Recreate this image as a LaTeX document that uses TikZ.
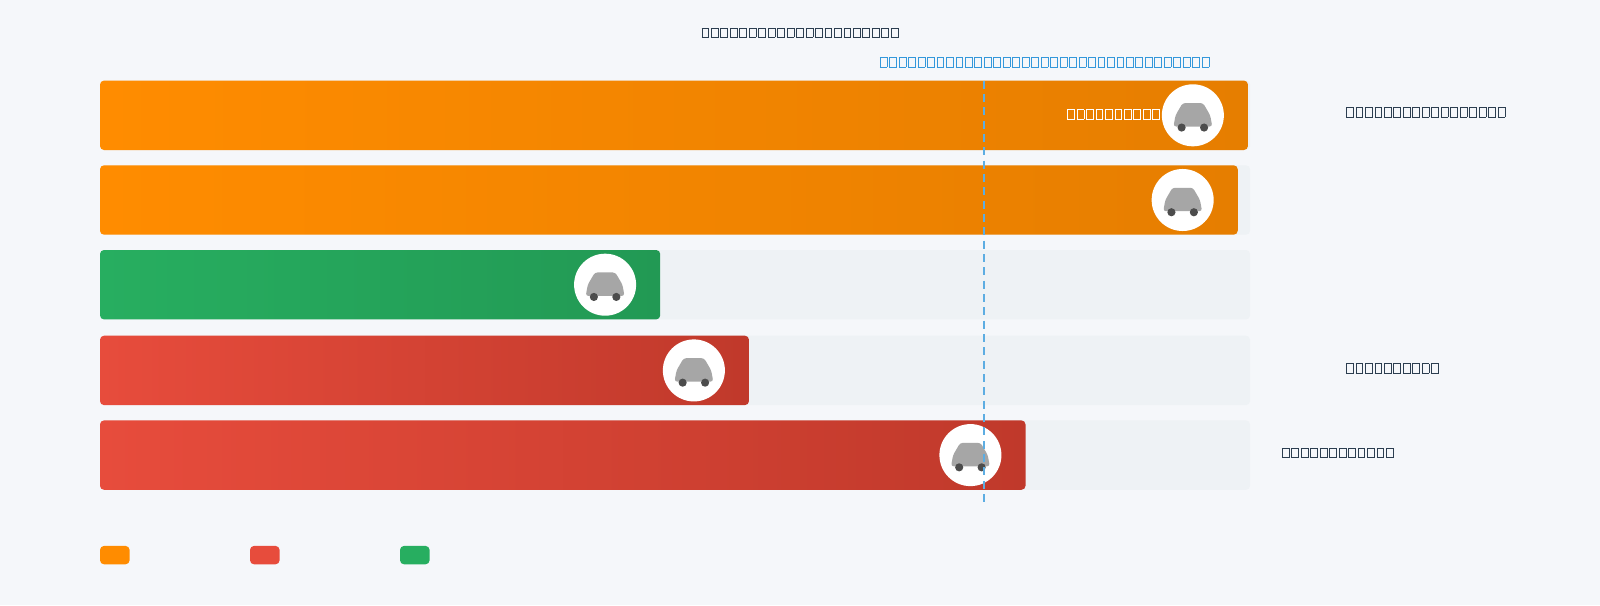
\documentclass[tikz,border=0pt]{standalone}
\usepackage{tikz}
\usetikzlibrary{positioning}
\definecolor{bgpage}{HTML}{F5F7FA}
\definecolor{track}{HTML}{EEF2F5}
\definecolor{orgA}{HTML}{FF8C00}
\definecolor{orgB}{HTML}{E67E00}
\definecolor{grnA}{HTML}{27AE60}
\definecolor{grnB}{HTML}{229954}
\definecolor{redA}{HTML}{E74C3C}
\definecolor{redB}{HTML}{C0392B}
\definecolor{inkdark}{HTML}{2C3E50}
\definecolor{inkblue}{HTML}{3498DB}
\definecolor{refline}{HTML}{5DADE2}
% one missing glyph, as the picture shows it
\newcommand{\tofubox}{\makebox[7.1pt][c]{\fboxsep0pt\fboxrule0.55pt\fbox{\phantom{\rule{4.6pt}{6.6pt}}}}}
\newcommand{\tofurow}[1]{\foreach \k in {1,...,#1}{\tofubox}}
\tikzset{
  bar/.style={rounded corners=3pt},
  puck/.style={circle, fill=white, minimum size=46.5pt, inner sep=0pt},
  lbl/.style={inner sep=0pt}
}
\begin{document}
\begin{tikzpicture}[x=0.765pt,y=-0.765pt]
\useasboundingbox (0,0) rectangle (1568,593);
\fill[bgpage] (0,0) rectangle (1568,593);

% tracks and bars
\foreach \top/\stop/\ca/\cb/\cx [count=\r] in {79/1223/orgA/orgB/1169, 162/1213/orgA/orgB/1159, 245/647/grnA/grnB/593, 329/734/redA/redB/680, 412/1005/redA/redB/951} {
  \fill[track, bar] (98,\top) rectangle (1225,\top+68);
  \shade[bar, left color=\ca, right color=\cb] (98,\top) rectangle (\stop,\top+68);
  \node[puck] (car\r) at (\cx,\top+34) {};
  \fill[gray!70, rounded corners=2pt] (\cx-17,\top+34) -- (\cx-10,\top+22) -- (\cx+10,\top+22) -- (\cx+17,\top+34) -- (\cx+19,\top+45) -- (\cx-19,\top+45) -- cycle;
  \fill[black!70] (\cx-11,\top+46) circle (4) (\cx+11,\top+46) circle (4);
}

% reference line
\coordinate (refTop) at (964,79);
\coordinate (refBot) at (964,494);
\draw[refline, line width=1.6pt, dash pattern=on 6pt off 4pt] (refTop) -- (refBot);

% texts
\node[lbl, text=inkdark] (title) at (784,32) {\tofurow{21}};
\node[lbl, text=inkblue, anchor=west] (note) at (861,61) {\tofurow{35}};
\node[lbl, text=white, anchor=east] (barlbl) at (1138,112) {\tofurow{10}};
\node[lbl, text=inkdark, anchor=west] (side1) at (1318,110) {\tofurow{17}};
\node[lbl, text=inkdark, anchor=west] (side4) at (1318,361) {\tofurow{10}};
\node[lbl, text=inkdark, anchor=west] (side5) at (1255,444) {\tofurow{12}};

% legend
\foreach \lx/\lc in {98/orgA, 245/redA, 392/grnA}
  \fill[\lc, rounded corners=3pt] (\lx,535) rectangle (\lx+29,553);
\end{tikzpicture}
\end{document}
